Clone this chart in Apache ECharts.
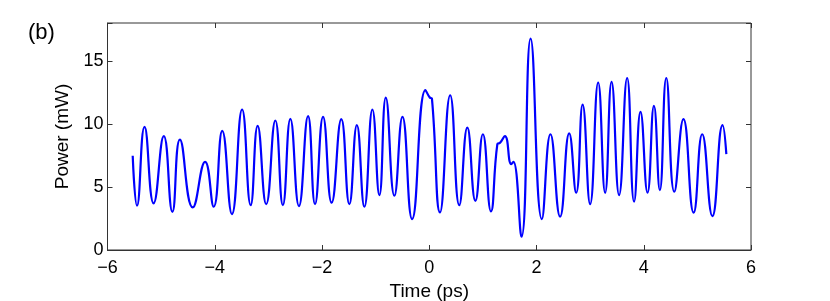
<!DOCTYPE html>
<html>
<head>
<meta charset="utf-8">
<script src="https://cdn.jsdelivr.net/npm/echarts@6/dist/echarts.min.js"></script>
<style>
  html, body { margin: 0; padding: 0; background: #fff; }
  #main { width: 830px; height: 301px; }
</style>
</head>
<body>
<div id="main"></div>
<script>
// peaks / troughs (time in ps, power in mW)
var timePs = [
  -5.53, -5.45, -5.31, -5.14, -4.95, -4.79, -4.65, -4.41, -4.18, -4.02,
  -3.86, -3.68, -3.49, -3.33, -3.20, -3.04, -2.87, -2.73, -2.59, -2.43,
  -2.26, -2.13, -1.98, -1.82, -1.64, -1.49, -1.35, -1.21, -1.06, -0.93,
  -0.81, -0.65, -0.50, -0.32, -0.07, 0.01, 0.05, 0.20, 0.39, 0.56,
  0.71, 0.86, 1.00, 1.15, 1.27, 1.32, 1.41, 1.53, 1.57, 1.72,
  1.89, 2.10, 2.26, 2.44, 2.61, 2.74, 2.86, 3.00, 3.15, 3.28,
  3.40, 3.54, 3.69, 3.82, 3.94, 4.07, 4.19, 4.30, 4.42, 4.57,
  4.74, 4.93, 5.09, 5.28, 5.47, 5.54
];
var powerMw = [
  7.47, 3.51, 9.76, 3.70, 9.03, 3.03, 8.76, 3.38, 6.99, 3.43,
  9.45, 2.85, 11.14, 3.56, 9.84, 3.64, 10.27, 3.56, 10.40, 3.48,
  10.61, 3.64, 10.56, 3.75, 10.37, 3.64, 9.90, 3.43, 11.14, 4.35,
  12.09, 4.30, 10.56, 2.45, 12.67, 12.09, 12.0, 2.98, 12.27, 3.56,
  9.71, 3.90, 9.18, 3.06, 8.39, 8.5, 9.03, 6.81, 6.99, 1.05,
  16.76, 2.45, 9.18, 2.64, 9.24, 4.54, 11.53, 3.64, 13.28, 4.54,
  13.33, 4.35, 13.64, 3.83, 10.95, 4.54, 11.43, 4.75, 13.64, 4.62,
  10.37, 2.96, 9.18, 2.69, 9.90, 7.60
];
var xTicks = [-6, -4, -2, 0, 2, 4, 6];
var yTicks = [0, 5, 10, 15];

var series = [];
for (var i = 0; i < timePs.length; i++) {
  series.push([timePs[i], powerMw[i]]);
}

function minus(v) {
  return String(v).replace('-', '\u2212');
}

var font = 'Liberation Sans';
var axisColor = '#333';
var chart = echarts.init(document.getElementById('main'), null, { renderer: 'canvas' });
chart.setOption({
  animation: false,
  backgroundColor: '#fff',
  title: {
    text: '(b)',
    left: 23, top: 17,
    textStyle: { fontFamily: font, fontSize: 22, fontWeight: 'normal', color: '#000' }
  },
  grid: {
    left: 107.5, right: 79, top: 23, bottom: 51,
    outerBoundsMode: 'none', containLabel: false,
    show: true, borderColor: axisColor, borderWidth: 1, backgroundColor: 'transparent'
  },
  xAxis: [{
    type: 'value', min: -6, max: 6, interval: 2, position: 'bottom',
    name: 'Time (ps)', nameLocation: 'middle', nameGap: 31,
    nameTextStyle: { fontFamily: font, fontSize: 19, color: '#000' },
    axisLine: { onZero: false, lineStyle: { color: axisColor, width: 1 } },
    axisTick: { inside: true, length: 5, lineStyle: { color: axisColor } },
    axisLabel: {
      margin: 9, fontFamily: font, fontSize: 18, color: '#000',
      formatter: function (v) { return xTicks.indexOf(v) >= 0 ? minus(v) : ''; }
    },
    splitLine: { show: false }
  }, {
    type: 'value', min: -6, max: 6, interval: 2, position: 'top',
    axisLine: { show: false, onZero: false },
    axisTick: { inside: true, length: 5, lineStyle: { color: axisColor } },
    axisLabel: { show: false },
    splitLine: { show: false }
  }],
  yAxis: [{
    type: 'value', min: 0, max: 18, interval: 5, position: 'left',
    name: 'Power (mW)', nameLocation: 'middle', nameGap: 31,
    nameTextStyle: { fontFamily: font, fontSize: 19, color: '#000' },
    axisLine: { show: true, onZero: false, lineStyle: { color: axisColor, width: 1 } },
    axisTick: { show: true, inside: true, length: 5, lineStyle: { color: axisColor } },
    axisLabel: {
      margin: 4, fontFamily: font, fontSize: 18, color: '#000',
      formatter: function (v) { return yTicks.indexOf(v) >= 0 ? String(v) : ''; }
    },
    splitLine: { show: false }
  }, {
    type: 'value', min: 0, max: 18, interval: 5, position: 'right',
    axisLine: { show: false, onZero: false },
    axisTick: { show: true, inside: true, length: 5, lineStyle: { color: axisColor } },
    axisLabel: { show: false },
    splitLine: { show: false }
  }],
  series: [{
    type: 'line',
    data: series,
    smooth: 0.5,
    symbol: 'none',
    lineStyle: { color: '#0000ff', width: 2.2 },
    xAxisIndex: 0, yAxisIndex: 0
  }]
});
</script>
</body>
</html>
